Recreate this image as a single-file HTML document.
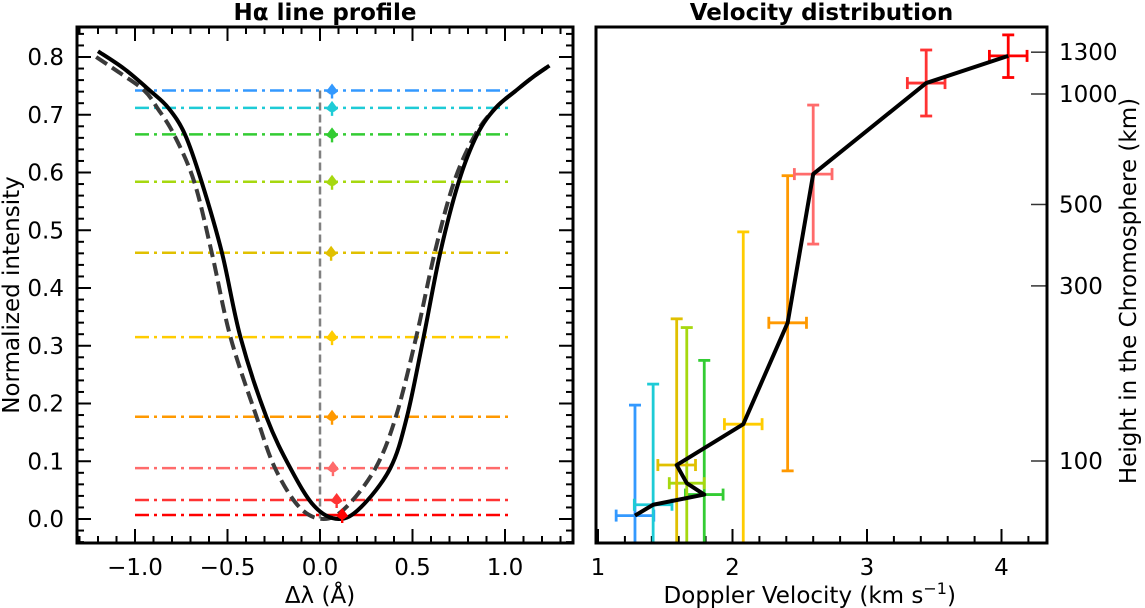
<!DOCTYPE html>
<html><head><meta charset="utf-8">
<style>
html,body{margin:0;padding:0;background:#fff;}
svg{display:block;font-family:"DejaVu Sans","Liberation Sans",sans-serif;}
</style></head>
<body>
<svg id="fig" width="1145" height="608" viewBox="0 0 1145 608" xmlns="http://www.w3.org/2000/svg"></svg>
<script>
// ---------- Left panel data ----------
const levelValues = [0.742, 0.712, 0.666, 0.584, 0.461, 0.315, 0.177, 0.088, 0.033, 0.007];
const levelMarkerX = [0.065, 0.065, 0.065, 0.065, 0.06, 0.065, 0.065, 0.07, 0.09, 0.12];
const levelColors = ["#3399ff","#1ecbd6","#33cc33","#a6d80f","#e0c000","#ffcc00","#ff9900","#ff6b6b","#ff3333","#ff0000"];
const solidX = [-1.2,-1.06,-0.92,-0.82,-0.73,-0.64,-0.53,-0.43,-0.29,-0.16,-0.03,0.1,0.22,0.38,0.47,0.56,0.65,0.75,0.85,0.95,1.06,1.15,1.24];
const solidY = [0.81,0.78,0.742,0.712,0.666,0.584,0.461,0.315,0.177,0.088,0.022,0.0,0.02,0.088,0.177,0.315,0.461,0.584,0.666,0.712,0.742,0.765,0.785];
const dashX = [-1.21,-1.08,-0.95,-0.88,-0.79,-0.68,-0.585,-0.484,-0.343,-0.243,-0.11,0.02,0.14,0.3,0.41,0.52,0.62,0.725,0.84,0.95,1.06,1.15,1.24];
const dashY = [0.80,0.772,0.742,0.712,0.666,0.584,0.461,0.315,0.177,0.088,0.02,0.0,0.02,0.088,0.177,0.315,0.461,0.584,0.666,0.712,0.742,0.765,0.785];
const leftXTicks = [-1.0,-0.5,0.0,0.5,1.0];
const leftXTickLabels = ["\u22121.0","\u22120.5","0.0","0.5","1.0"];
const leftYTicks = [0,0.1,0.2,0.3,0.4,0.5,0.6,0.7,0.8];
const leftYTickLabels = ["0.0","0.1","0.2","0.3","0.4","0.5","0.6","0.7","0.8"];
// ---------- Right panel data ----------
const velocities = [1.275,1.41,1.79,1.66,1.585,2.08,2.41,2.60,3.44,4.05];
const heights = [71,76,81,87,97.5,126,238,605,1071,1270];
const velErr = [0.14,0.14,0.14,0.13,0.14,0.14,0.14,0.14,0.14,0.14];
const hTop = [142,162,188,231,244,421,599,933,1318,1449];
const hBottom = [55,55,55,55,55,55,94,390,871,1109];
const pointColors = ["#3399ff","#1ecbd6","#33cc33","#a6d80f","#e0c000","#ffcc00","#ff9900","#ff6b6b","#ff3333","#ff0000"];
const rightXTicks = [1,2,3,4];
const rightXTickLabels = ["1","2","3","4"];
const rightYTicks = [100,300,500,1000,1300];
const rightYTickLabels = ["100","300","500","1000","1300"];

const NS="http://www.w3.org/2000/svg";
const svg=document.getElementById('fig');
function mk(tag,attrs,parent){const e=document.createElementNS(NS,tag);for(const k in attrs)e.setAttribute(k,attrs[k]);(parent||svg).appendChild(e);return e;}

const L={x0:77,x1:573,y0:27,y1:543};
const lx=v=>320+v*185;
const ly=v=>519-v*577.5;
const R={x0:596,x1:1047,y0:27,y1:543};
const rx=v=>598+(v-1)*134.5;
const ry=h=>461-(Math.log10(h)-2)*367;

function smoothPath(xs,ys,fx,fy){
  const p=xs.map((x,i)=>[fx(x),fy(ys[i])]);
  let d=`M${p[0][0]},${p[0][1]}`;
  for(let i=0;i<p.length-1;i++){
    const p0=p[Math.max(0,i-1)],p1=p[i],p2=p[i+1],p3=p[Math.min(p.length-1,i+2)];
    const c1=[p1[0]+(p2[0]-p0[0])/6,p1[1]+(p2[1]-p0[1])/6];
    const c2=[p2[0]-(p3[0]-p1[0])/6,p2[1]-(p3[1]-p1[1])/6];
    d+=` C${c1[0]},${c1[1]} ${c2[0]},${c2[1]} ${p2[0]},${p2[1]}`;
  }
  return d;
}

const FS='23';
const TFS='23';
// ---- Left panel ----
const gL=mk('g',{});


const t1=mk('text',{x:(L.x0+L.x1)/2,y:20,'text-anchor':'middle','font-size':TFS,'font-weight':'bold'},gL);
t1.textContent='H\u03b1 line profile';


const vl=mk('line',{x1:lx(0),x2:lx(0),y1:ly(0.742),y2:ly(0),stroke:'#808080','stroke-width':2.5,'stroke-dasharray':'8,4'},gL);


levelValues.forEach((v,i)=>{
  const l=mk('line',{x1:lx(-1.0),x2:lx(1.02),y1:ly(v),y2:ly(v),stroke:levelColors[i],'stroke-width':2.5,'stroke-dasharray':'14,5,3,5'},gL);
  
});
const dp=mk('path',{d:smoothPath(dashX,dashY,lx,ly),fill:'none',stroke:'#3a3a3a','stroke-width':4,'stroke-dasharray':'13,6'},gL);

const sp=mk('path',{d:smoothPath(solidX,solidY,lx,ly),fill:'none',stroke:'#000','stroke-width':4},gL);

levelValues.forEach((v,i)=>{
  const cx=lx(levelMarkerX[i]),cy=ly(v);
  const m=mk('path',{d:`M${cx},${cy-7} L${cx+6},${cy+1} L${cx+2},${cy+4} L${cx+1.2},${cy+4} L${cx+1.2},${cy+8} L${cx-1.2},${cy+8} L${cx-1.2},${cy+4} L${cx-2},${cy+4} L${cx-6},${cy+1} Z`,fill:levelColors[i]},gL);
  
});
for(let k=-13;k<=13;k++){const v=k/10;const x=lx(v);if(x<=L.x0||x>=L.x1)continue;const major=k%5===0;const len=major?14:7;
  mk('line',{x1:x,x2:x,y1:L.y1,y2:L.y1-len,stroke:'#000','stroke-width':2},gL);
  mk('line',{x1:x,x2:x,y1:L.y0,y2:L.y0+len,stroke:'#000','stroke-width':2},gL);}
for(let k=-2;k<=42;k++){const v=k/50;const y=ly(v);if(y<=L.y0||y>=L.y1)continue;const major=k%5===0;const len=major?14:7;
  mk('line',{x1:L.x0,x2:L.x0+len,y1:y,y2:y,stroke:'#000','stroke-width':2},gL);
  mk('line',{x1:L.x1,x2:L.x1-len,y1:y,y2:y,stroke:'#000','stroke-width':2},gL);}
leftXTicks.forEach((v,i)=>{const t=mk('text',{x:lx(v),y:L.y1+32,'text-anchor':'middle','font-size':FS},gL);t.textContent=leftXTickLabels[i];
  });
leftYTicks.forEach((v,i)=>{const t=mk('text',{x:L.x0-13,y:ly(v)+8,'text-anchor':'end','font-size':FS},gL);t.textContent=leftYTickLabels[i];
  });
mk('rect',{x:L.x0,y:L.y0,width:L.x1-L.x0,height:L.y1-L.y0,fill:'none',stroke:'#000','stroke-width':3},gL);
const xl=mk('text',{x:lx(0),y:603,'text-anchor':'middle','font-size':FS},gL);xl.textContent='\u0394\u03bb (\u00c5)';

const yl=mk('text',{x:0,y:0,'text-anchor':'middle','font-size':FS,transform:`translate(19,${(L.y0+L.y1)/2+10}) rotate(-90)`},gL);yl.textContent='Normalized intensity';


// ---- Right panel ----
const gR=mk('g',{});


const t2=mk('text',{x:(R.x0+R.x1)/2,y:20,'text-anchor':'middle','font-size':TFS,'font-weight':'bold'},gR);
t2.textContent='Velocity distribution';

for(let k=5;k<=21;k++){const v=k/5;const x=rx(v);if(x<=R.x0+1||x>=R.x1)continue;const major=k%5===0;const len=major?14:7;
  mk('line',{x1:x,x2:x,y1:R.y1,y2:R.y1-len,stroke:'#000','stroke-width':2},gR);}
rightYTicks.forEach((h,i)=>{const y=ry(h);mk('line',{x1:R.x1,x2:R.x1-16,y1:y,y2:y,stroke:'#333','stroke-width':1.5},gR);
  const t=mk('text',{x:R.x1+12,y:y+8,'font-size':FS},gR);t.textContent=rightYTickLabels[i];
  });
rightXTicks.forEach((v,i)=>{const t=mk('text',{x:rx(v),y:R.y1+32,'text-anchor':'middle','font-size':FS},gR);t.textContent=rightXTickLabels[i];
  });
velocities.forEach((v,i)=>{
  const g=mk('g',{stroke:pointColors[i],'stroke-width':2.8,fill:'none'},gR);
  
  const x=rx(v),y=ry(heights[i]);
  const yt=ry(hTop[i]),yb=Math.min(ry(hBottom[i]),R.y1);
  mk('line',{x1:x,x2:x,y1:yt,y2:yb},g);
  mk('line',{x1:x-6,x2:x+6,y1:yt,y2:yt},g);
  if(ry(hBottom[i])<R.y1) mk('line',{x1:x-6,x2:x+6,y1:yb,y2:yb},g);
  const xa=rx(v-velErr[i]),xb=rx(v+velErr[i]);
  mk('line',{x1:xa,x2:xb,y1:y,y2:y},g);
  mk('line',{x1:xa,x2:xa,y1:y-6,y2:y+6},g);
  mk('line',{x1:xb,x2:xb,y1:y-6,y2:y+6},g);
});
const vp=mk('polyline',{points:velocities.map((v,i)=>rx(v)+','+ry(heights[i])).join(' '),fill:'none',stroke:'#000','stroke-width':4,'stroke-linejoin':'round'},gR);

mk('rect',{x:R.x0,y:R.y0,width:R.x1-R.x0,height:R.y1-R.y0,fill:'none',stroke:'#000','stroke-width':3},gR);
const xl2=mk('text',{x:rx(2.5)+10,y:603,'text-anchor':'middle','font-size':FS},gR);
xl2.innerHTML='Doppler Velocity (km s<tspan dy="-9" font-size="16">\u22121</tspan><tspan dy="9">)</tspan>';

const yl2=mk('text',{x:0,y:0,'text-anchor':'middle','font-size':FS,transform:`translate(1136,${(R.y0+R.y1)/2+6}) rotate(-90)`},gR);
yl2.textContent='Height in the Chromosphere (km)';

</script>
</body></html>
